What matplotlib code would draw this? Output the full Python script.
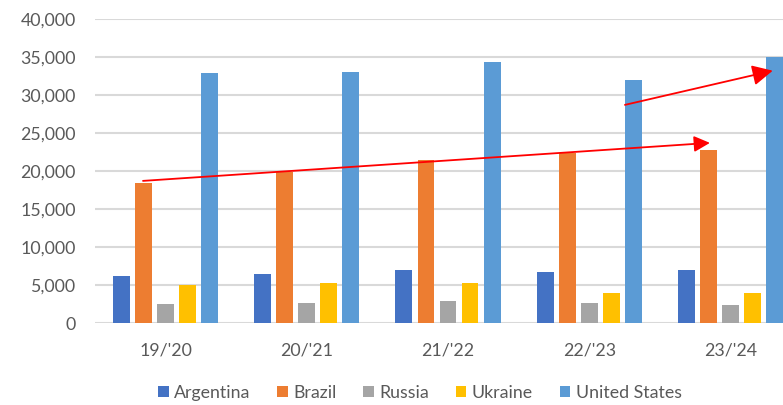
import matplotlib
matplotlib.use("Agg")
import matplotlib.pyplot as plt
import numpy as np
from matplotlib.ticker import FuncFormatter, MultipleLocator

seasons = ["19/'20", "20/'21", "21/'22", "22/'23", "23/'24"]
countries = ["Argentina", "Brazil", "Russia", "Ukraine", "United States"]
argentina = [6200, 6450, 6950, 6650, 6950]
brazil = [18400, 19850, 21500, 22350, 22700]
russia = [2450, 2650, 2900, 2650, 2400]
ukraine = [4950, 5300, 5300, 4000, 4000]
united_states = [32850, 33050, 34400, 31950, 35050]
series = [argentina, brazil, russia, ukraine, united_states]
colors = ["#4472C4", "#ED7D31", "#A5A5A5", "#FFC000", "#5B9BD5"]

plt.rcParams["font.family"] = ["Lato", "DejaVu Sans"]
text_gray = "#595959"
grid_gray = "#D9D9D9"

fig = plt.figure(figsize=(7.83, 4.05), dpi=100)
ax = fig.add_axes([95 / 783, 82 / 405, 706 / 783, 304 / 405])

x = np.arange(len(seasons))
step = 0.156
width = 0.12
for i, (vals, col, name) in enumerate(zip(series, colors, countries)):
    ax.bar(x + (i - 2) * step, vals, width=width, color=col, label=name, zorder=3)

ax.set_xlim(-0.5, len(seasons) - 0.5)
ax.set_ylim(0, 40000)
ax.yaxis.set_major_locator(MultipleLocator(5000))
ax.yaxis.set_major_formatter(FuncFormatter(lambda v, p: f"{int(v):,}"))
ax.set_xticks(x)
ax.set_xticklabels(seasons)
ax.grid(axis="y", color=grid_gray, linewidth=1.5, zorder=0)
ax.set_axisbelow(True)
for s in ax.spines.values():
    s.set_visible(False)
ax.tick_params(axis="both", length=0, colors=text_gray, labelsize=12.8)
ax.tick_params(axis="y", pad=14)
ax.tick_params(axis="x", pad=14)

# trend arrows
def trend_arrow(start, end, head):
    ax.annotate("", xy=end, xytext=start,
                arrowprops=dict(arrowstyle="-|>", color="#FF0000", lw=1.3,
                                mutation_scale=head, shrinkA=0, shrinkB=0),
                zorder=5, annotation_clip=False)

trend_arrow((-0.16, 18700), (3.855, 23700), 24)
trend_arrow((3.253, 28700), (4.30, 33200), 31)

handles, labels = ax.get_legend_handles_labels()
fig.legend(handles, labels, loc="center", bbox_to_anchor=(420 / 783, 1 - 393 / 405),
           ncol=5, frameon=False, fontsize=12.8, handlelength=0.6,
           handleheight=0.6, handletextpad=0.3, columnspacing=1.5,
           labelcolor=text_gray)

fig.savefig("out.png", dpi=100, facecolor="white")
